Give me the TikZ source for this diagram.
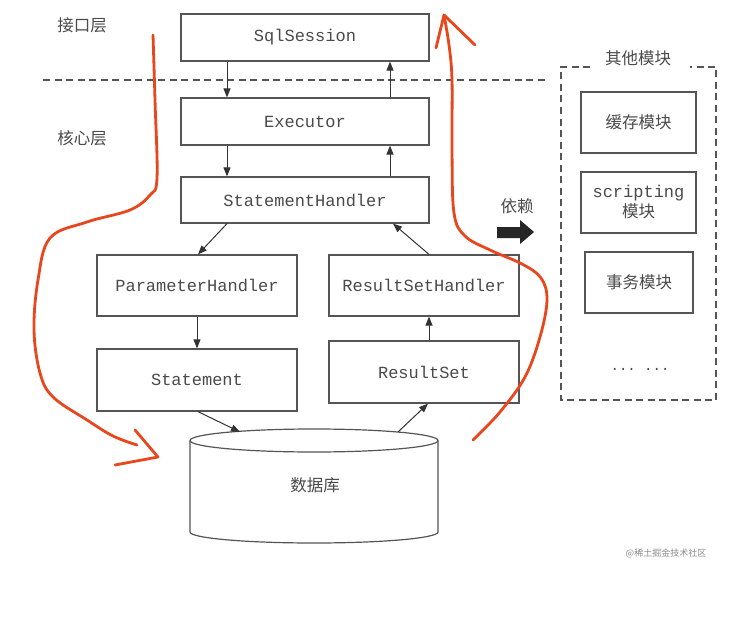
\documentclass[tikz,border=0pt]{standalone}
\usepackage{fontspec}
\setmonofont{Liberation Mono}
\newfontfamily\cjk{Noto Sans CJK SC}
\usetikzlibrary{arrows.meta}
\definecolor{boxgray}{HTML}{555555}
\definecolor{txtgray}{HTML}{4A4A4A}
\definecolor{redpen}{HTML}{E8471E}
\begin{document}
\begin{tikzpicture}[x=1pt,y=-1pt,
  box/.style={draw=boxgray,line width=1.2pt,fill=white,rectangle,inner sep=0pt,
    text=txtgray,font=\ttfamily\fontsize{17}{19}\selectfont,align=center},
  cnbox/.style={box,font=\cjk\fontsize{16.5}{19}\selectfont},
  lbl/.style={text=txtgray,font=\cjk\fontsize{16.5}{19}\selectfont,inner sep=0pt},
  arr/.style={draw=black!80,line width=1pt,-{Triangle[length=9pt,width=7pt]}},
  dsh/.style={draw=boxgray,line width=1.2pt,dash pattern=on 7pt off 4.5pt},
  pen/.style={draw=redpen,line width=2.8pt,line cap=round,line join=round}]
\useasboundingbox (0,0) rectangle (745,618);
\fill[white] (0,0) rectangle (745,618);

% layer labels
\node[lbl] (l1) at (82,25) {接口层};
\node[lbl] (l2) at (82,138) {核心层};
\draw[dsh] (43,80) -- (545,80);

% main boxes
\node[box,minimum width=248pt,minimum height=47pt] (sql) at (305,37.5) {SqlSession};
\node[box,minimum width=248pt,minimum height=47pt] (exec) at (305,121.5) {Executor};
\node[box,minimum width=248pt,minimum height=46pt] (sh) at (305,200) {StatementHandler};
\node[box,minimum width=200pt,minimum height=61pt] (ph) at (197,285.5) {ParameterHandler};
\node[box,minimum width=190pt,minimum height=61pt] (rsh) at (424,285.5) {ResultSetHandler};
\node[box,minimum width=200pt,minimum height=62pt] (stmt) at (197,380) {Statement};
\node[box,minimum width=190pt,minimum height=62pt] (rs) at (424,372) {ResultSet};

% database cylinder
\draw[draw=boxgray,line width=1.2pt,fill=white]
  (190,440.5) -- (190,532) arc[start angle=180,end angle=360,x radius=124pt,y radius=11pt]
  -- (438,440.5) arc[start angle=0,end angle=180,x radius=124pt,y radius=11.5pt];
\draw[draw=boxgray,line width=1.2pt] (190,440.5) arc[start angle=180,end angle=360,x radius=124pt,y radius=11.5pt];
\node[lbl] (db) at (315,485) {数据库};
\coordinate (dbin) at (240,432);
\coordinate (dbout) at (398,432);

% connectors
\draw[arr] ([xshift=-78pt]sql.south) -- ([xshift=-78pt]exec.north);
\draw[arr] ([xshift=85pt]exec.north) -- ([xshift=85pt]sql.south);
\draw[arr] ([xshift=-78pt]exec.south) -- ([xshift=-78pt]sh.north);
\draw[arr] ([xshift=85pt]sh.north) -- ([xshift=85pt]exec.south);
\draw[arr] ([xshift=-78pt]sh.south) -- ([xshift=1pt]ph.north);
\draw[arr] ([xshift=5pt]rsh.north) -- ([xshift=88pt]sh.south);
\draw[arr] (ph.south) -- (stmt.north);
\draw[arr] ([xshift=5pt]rs.north) -- ([xshift=5pt]rsh.south);
\draw[arr] ([xshift=1pt]stmt.south) -- (dbin);
\draw[arr] (dbout) -- ([xshift=4pt]rs.south);

% dependency arrow
\node[lbl] (dep) at (517,206) {依赖};
\fill[black!85] (497,227) -- (520,227) -- (520,220) -- (534,232) -- (520,244) -- (520,238) -- (497,238) -- cycle;

% other modules
\node[lbl] (other) at (638,58) {其他模块};
\draw[dsh] (590,67) -- (561,67) -- (561,400) -- (716,400) -- (716,67) -- (690,67);
\node[cnbox,minimum width=115pt,minimum height=61pt] (cache) at (638.5,122.5) {缓存模块};
\node[box,minimum width=115pt,minimum height=61pt] (script) at (638.5,202.5) {scripting\\[1pt]{\cjk\fontsize{16.5}{19}\selectfont 模块}};
\node[cnbox,minimum width=108pt,minimum height=61pt] (tx) at (639,282.5) {事务模块};
\node[text=txtgray,font=\ttfamily\fontsize{14}{16}\selectfont] (dots) at (640,369) {... ...};

% red hand-drawn flow
\draw[pen] plot[smooth,tension=0.6] coordinates {(153,35) (155,100) (157,178) (150,195) (130,210) (87,222) (50,238) (38,280) (34,330) (40,373) (53,397) (87,420) (113,436) (137,445)};
\draw[pen] (135,430) -- (158,457) -- (115,465);
\draw[pen] plot[smooth,tension=0.6] coordinates {(473,440) (500,412) (525,377) (540,337) (547,300) (541,278) (522,264) (490,250) (465,236) (454,213) (452,150) (452,80) (449,45) (444,15)};
\draw[pen] (436,48) -- (444,15) -- (475,45);

% watermark
\node[text=black!45,font=\cjk\fontsize{9}{10}\selectfont,inner sep=0pt] (wm) at (666,553) {@稀土掘金技术社区};
\end{tikzpicture}
\end{document}
